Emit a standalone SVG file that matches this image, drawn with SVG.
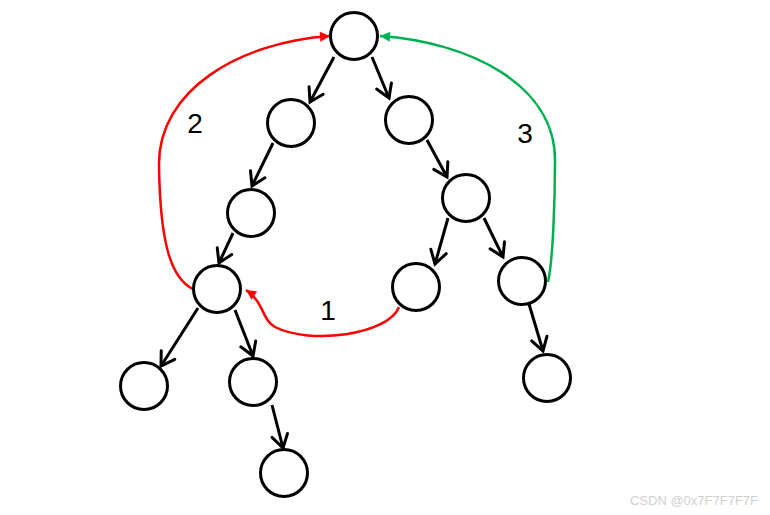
<svg xmlns="http://www.w3.org/2000/svg" width="770" height="515" viewBox="0 0 770 515">
<style>
.node circle{fill:#fff;stroke:#000;stroke-width:3}
.edge{stroke:#000;stroke-width:3;fill:none;marker-end:url(#arr)}
.red{stroke:#ff0000;stroke-width:2.5;fill:none}
.green{stroke:#00b050;stroke-width:2.5;fill:none}
.lbl{font-family:"Liberation Sans",Arial,sans-serif;font-size:28px;fill:#000;text-anchor:middle}
</style>
<defs>
<marker id="arr" markerUnits="userSpaceOnUse" viewBox="-16 -10 20 20" refX="0" refY="0" markerWidth="20" markerHeight="20" orient="auto">
<path d="M-13,-8 L0,0 L-13,8" fill="none" stroke="#000" stroke-width="3" stroke-linecap="round" stroke-linejoin="miter"/>
</marker>
<marker id="ra" markerUnits="userSpaceOnUse" viewBox="-12 -7 14 14" refX="0" refY="0" markerWidth="14" markerHeight="14" orient="auto">
<path d="M0,0 L-10,-5 L-10,5 z" fill="#ff0000"/>
</marker>
<marker id="ga" markerUnits="userSpaceOnUse" viewBox="-12 -7 14 14" refX="0" refY="0" markerWidth="14" markerHeight="14" orient="auto">
<path d="M0,0 L-10,-5 L-10,5 z" fill="#00b050"/>
</marker>
</defs>
<rect width="770" height="515" fill="#fff"/>
<g id="connectors">
<line class="edge" x1="334" y1="57" x2="310" y2="102"/>
<line class="edge" x1="372" y1="57" x2="389" y2="98"/>
<line class="edge" x1="273" y1="143" x2="252" y2="186"/>
<line class="edge" x1="427" y1="140" x2="447" y2="177"/>
<line class="edge" x1="233" y1="233" x2="219" y2="263"/>
<line class="edge" x1="448" y1="218" x2="435" y2="264"/>
<line class="edge" x1="484" y1="218" x2="503" y2="257"/>
<line class="edge" x1="198" y1="308" x2="161" y2="366"/>
<line class="edge" x1="235" y1="310" x2="253" y2="356"/>
<line class="edge" x1="529" y1="304" x2="543" y2="351"/>
<line class="edge" x1="272" y1="405" x2="283" y2="448"/>
<path class="red" d="M193,289 C170,278 160,240 159,165 C158,90 240,42 330,36" marker-end="url(#ra)"/>
<path class="red" d="M399,307 C388,335 310,345 275,327 C262,320 264,302 246,290" marker-end="url(#ra)"/>
<path class="green" d="M548,282 C553,260 555,200 555,160 C555,85 470,42 380,36" marker-end="url(#ga)"/>
</g>
<g id="n_root" class="node"><circle cx="354" cy="36" r="23.5"/></g>
<g id="n_l1" class="node"><circle cx="291" cy="123" r="23.5"/></g>
<g id="n_r1" class="node"><circle cx="409" cy="120" r="23.5"/></g>
<g id="n_l2" class="node"><circle cx="251" cy="213" r="23.5"/></g>
<g id="n_r2" class="node"><circle cx="466" cy="198" r="23.5"/></g>
<g id="n_l3" class="node"><circle cx="217" cy="289" r="23.5"/></g>
<g id="n_r3a" class="node"><circle cx="416" cy="287" r="23.5"/></g>
<g id="n_r3b" class="node"><circle cx="522" cy="281" r="23.5"/></g>
<g id="n_ll4" class="node"><circle cx="144" cy="386" r="23.5"/></g>
<g id="n_lr4" class="node"><circle cx="253" cy="382" r="23.5"/></g>
<g id="n_r4" class="node"><circle cx="547" cy="378" r="23.5"/></g>
<g id="n_lr5" class="node"><circle cx="284" cy="473" r="23.5"/></g>
<text class="lbl" x="195" y="133">2</text>
<text class="lbl" x="525" y="143">3</text>
<text class="lbl" x="328" y="320">1</text>
<text x="694" y="505" font-family="'Liberation Sans',Arial,sans-serif" font-size="13" fill="#d0d0d0" text-anchor="middle">CSDN @0x7F7F7F7F</text>
</svg>
